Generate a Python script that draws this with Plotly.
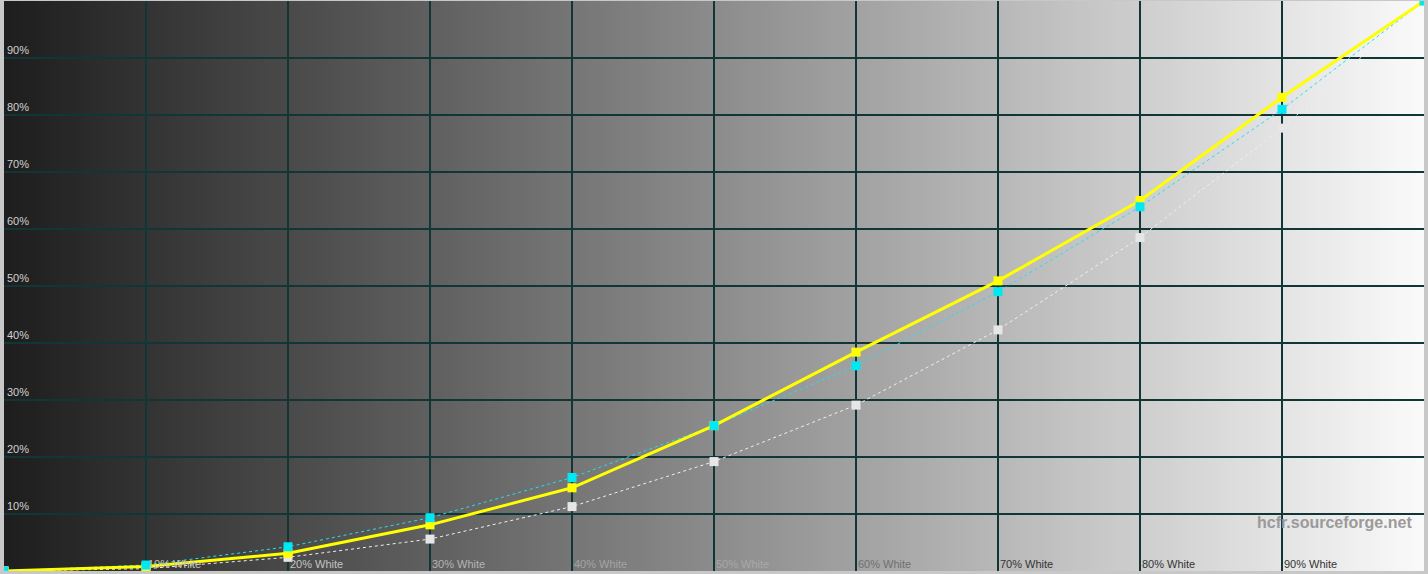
import base64
import struct
import zlib
import plotly.graph_objects as go

# grey steps (% white) and luminance readings (% of max)
steps = [0, 10, 20, 30, 40, 50, 60, 70, 80, 90, 100]
measured = [0, 0.8, 3.1, 8.1, 14.6, 25.5, 38.4, 50.9, 65.0, 83.1, 100]
reference = [0, 1.05, 4.25, 9.35, 16.4, 25.5, 36.0, 49.0, 63.9, 81.0, 100]
gamma_ref = [0, 0.4, 2.4, 5.6, 11.3, 19.2, 29.1, 42.3, 58.5, 77.7, 100]

x_labels = ["10% White", "20% White", "30% White", "40% White", "50% White",
            "60% White", "70% White", "80% White", "90% White"]
x_label_colors = ["#c4c4c4", "#c4c4c4", "#b4b4b4", "#a4a4a4", "#a8a8a8",
                  "#707070", "#333333", "#333333", "#333333"]
y_ticks = [10, 20, 30, 40, 50, 60, 70, 80, 90]
y_tick_text = ["10%", "20%", "30%", "40%", "50%", "60%", "70%", "80%", "90%"]


def png_chunk(tag, data):
    return (struct.pack(">I", len(data)) + tag + data
            + struct.pack(">I", zlib.crc32(tag + data) & 0xffffffff))


def gradient_png(width=256, start=30, end=250):
    """1-pixel-high grey ramp, returned as a data URI"""
    row = bytes(round(start + (end - start) * i / (width - 1)) for i in range(width))
    raw = b"\x00" + row
    png = (b"\x89PNG\r\n\x1a\n"
           + png_chunk(b"IHDR", struct.pack(">IIBBBBB", width, 1, 8, 0, 0, 0, 0))
           + png_chunk(b"IDAT", zlib.compress(raw))
           + png_chunk(b"IEND", b""))
    return "data:image/png;base64," + base64.b64encode(png).decode()


fig = go.Figure()

# gamma 2.4 reference (white dashed)
fig.add_trace(go.Scatter(x=steps, y=gamma_ref, mode="lines+markers",
                         line=dict(color="#f0f0f0", width=1, dash="3px,3px"),
                         marker=dict(symbol="square", size=9, color="#e6e6e6")))
# reference curve line (cyan dashed)
fig.add_trace(go.Scatter(x=steps, y=reference, mode="lines",
                         line=dict(color="#20e0f0", width=1, dash="3px,3px")))
# measured luminance (yellow)
fig.add_trace(go.Scatter(x=steps, y=measured, mode="lines+markers",
                         line=dict(color="#ffff00", width=3),
                         marker=dict(symbol="square", size=9, color="#ffff00")))
# reference markers on top
fig.add_trace(go.Scatter(x=steps, y=reference, mode="markers",
                         marker=dict(symbol="square", size=9, color="#00e8f4")))

for lab, col, xv in zip(x_labels, x_label_colors, steps[1:10]):
    fig.add_annotation(x=xv, y=0, xref="x", yref="y", text=lab, showarrow=False,
                       xanchor="left", yanchor="bottom", yshift=-1,
                       font=dict(family="Liberation Sans, Arial", size=11, color=col))

fig.add_annotation(x=0.993, y=0.085, xref="paper", yref="paper",
                   text="<b>hcfr.sourceforge.net</b>", showarrow=False,
                   xanchor="right", yanchor="middle",
                   font=dict(family="Liberation Sans, Arial", size=16, color="#9a9a9a"))

fig.add_layout_image(source=gradient_png(), xref="x", yref="y", x=0, y=100,
                     sizex=100, sizey=100, sizing="stretch", layer="below")

fig.update_layout(
    width=1428, height=574,
    margin=dict(l=4, r=4, t=1, b=3),
    paper_bgcolor="#c8c8c8",
    plot_bgcolor="#808080",
    showlegend=False,
    xaxis=dict(range=[0, 100], tickvals=y_ticks, showticklabels=False,
               showgrid=True, gridcolor="#123636", gridwidth=1.5,
               zeroline=False, showline=False, fixedrange=True),
    yaxis=dict(range=[0, 100], tickvals=y_ticks, ticktext=y_tick_text,
               ticklabelposition="inside top",
               tickfont=dict(family="Liberation Sans, Arial", size=11, color="#d0d0d0"),
               showgrid=True, gridcolor="#123636", gridwidth=1.5,
               zeroline=False, showline=False, fixedrange=True),
)

fig.write_html("out.html", config={"displayModeBar": False},
               post_script="document.body.style.margin='0';")
